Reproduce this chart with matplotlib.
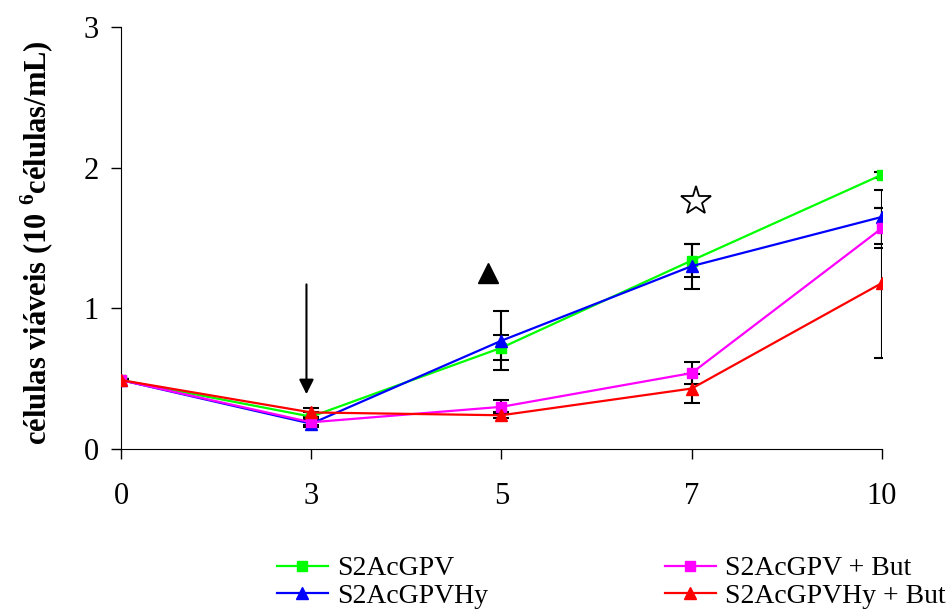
import matplotlib
matplotlib.use("Agg")
import matplotlib.pyplot as plt

plt.rcParams['font.family'] = ['Liberation Serif', 'DejaVu Serif']
plt.rcParams['mathtext.fontset'] = 'custom'
plt.rcParams['mathtext.rm'] = 'Liberation Serif'
plt.rcParams['mathtext.bf'] = 'Liberation Serif:bold'

days = ['0', '3', '5', '7', '10']

gpv = [0.49, 0.23, 0.72, 1.34, 1.95]
gpv_err = [0.01, 0.03, 0.09, 0.12, 0.02]
gpvhy = [0.49, 0.18, 0.77, 1.30, 1.65]
gpvhy_err = [0.01, 0.02, 0.21, 0.16, 0.19]
gpv_but = [0.49, 0.19, 0.30, 0.54, 1.57]
gpv_but_err = [0.01, 0.02, 0.05, 0.08, 0.14]
gpvhy_but = [0.49, 0.26, 0.24, 0.43, 1.18]
gpvhy_but_err = [0.01, 0.03, 0.02, 0.10, 0.53]

series = [
    ('S2AcGPV', gpv, gpv_err, '#00ff00', 's'),
    ('S2AcGPVHy', gpvhy, gpvhy_err, '#0000ff', '^'),
    ('S2AcGPV + But', gpv_but, gpv_but_err, '#ff00ff', 's'),
    ('S2AcGPVHy + But', gpvhy_but, gpvhy_but_err, '#ff0000', '^'),
]


def main():
    fig = plt.figure(figsize=(9.51, 6.13), dpi=100)
    ax = fig.add_axes([0.1272, 0.2675, 0.8002, 0.6885])
    x = list(range(len(days)))

    for name, vals, err, color, mk in series:
        ax.errorbar(x, vals, yerr=err, fmt='none', ecolor='black',
                    elinewidth=1.5, capsize=5.5, capthick=1.5, zorder=2)
    handles = []
    for name, vals, err, color, mk in series:
        ms = 7 if mk == 's' else 9
        h, = ax.plot(x, vals, color=color, lw=1.6, marker=mk, ms=ms,
                     markeredgecolor=color, label=name, zorder=3)
        handles.append(h)

    # sodium butyrate addition
    ax.annotate('', xy=(0.975, 0.37), xytext=(0.975, 1.19),
                arrowprops=dict(arrowstyle='-|>', color='black', lw=1.5,
                                mutation_scale=22))
    ax.plot([1.93], [1.25], marker='^', color='black', ms=14, zorder=4)
    ax.plot([3.02], [1.76], marker='*', markerfacecolor='white',
            markeredgecolor='black', mew=1.3, ms=22, zorder=4)

    ax.set_xlim(0, 4)
    ax.set_ylim(0, 3)
    ax.set_xticks(x)
    ax.set_xticklabels(days)
    ax.set_yticks([0, 1, 2, 3])
    ax.spines['top'].set_visible(False)
    ax.spines['right'].set_visible(False)
    ax.tick_params(axis='both', direction='out', length=7, width=1,
                   labelsize=22)
    ax.tick_params(axis='x', pad=17)
    ax.tick_params(axis='y', pad=9)

    ax.set_ylabel(r'células viáveis (10 $^{\mathbf{6}}$células/mL)',
                  fontsize=22, fontweight='bold')
    ax.yaxis.set_label_coords(-0.086, 0.49)

    fig.legend(handles=handles, loc='upper left', ncol=2, frameon=False,
               bbox_to_anchor=(0.291, 0.093), fontsize=20, handlelength=1.85,
               handletextpad=0.33, columnspacing=6.35, labelspacing=0.06,
               borderpad=0, borderaxespad=0)

    fig.savefig('out.png', dpi=100)


if __name__ == '__main__':
    main()
